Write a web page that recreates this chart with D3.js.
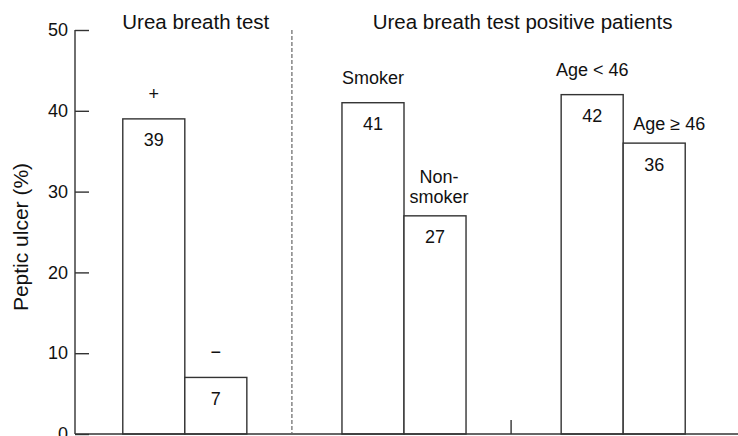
<!DOCTYPE html>
<html><head><meta charset="utf-8">
<script src="https://cdn.jsdelivr.net/npm/d3@7"></script>
<style>
html,body{margin:0;padding:0;background:#fff;}
text{font-family:"Liberation Sans",Arial,Helvetica,sans-serif;fill:#111;}
</style></head>
<body><svg id="c" width="738" height="436"></svg>
<script>
// ---- data ----
const groups = ["Urea breath test", "Smoking", "Age"];
const groupTitles = ["Urea breath test", "Urea breath test positive patients"];
const barGroup = [0, 0, 1, 1, 2, 2];
const barSlot = [0, 1, 0, 1, 0, 1];
const barValues = [39, 7, 41, 27, 42, 36];
const barLabels = [["+"], ["\u2212"], ["Smoker"], ["Non-", "smoker"], ["Age < 46"], ["Age \u2265 46"]];
const yTicks = [0, 10, 20, 30, 40, 50];
const yTitle = "Peptic ulcer (%)";

// ---- layout ----
const W = 738, H = 436;
const svg = d3.select("#c");
const y = d3.scaleLinear().domain([0, 50]).range([434, 30]);
const xg = d3.scaleBand().domain(d3.range(groups.length)).range([75, 733]).paddingInner(0.434).paddingOuter(0.218);
const xb = d3.scaleBand().domain([0, 1]).range([0, xg.bandwidth()]);
const bx = i => xg(barGroup[i]) + xb(barSlot[i]);
const bw = xb.bandwidth();
const stroke = "#333";

// bars
svg.append("g").selectAll("rect").data(barValues).join("rect")
  .attr("x", (d, i) => bx(i)).attr("y", d => y(d))
  .attr("width", bw).attr("height", d => y(0) - y(d))
  .attr("fill", "#fff").attr("stroke", stroke).attr("stroke-width", 1.4);

// value labels inside bars
svg.append("g").selectAll("text").data(barValues).join("text")
  .attr("x", (d, i) => bx(i) + bw / 2).attr("y", d => y(d) + 27.5)
  .attr("text-anchor", "middle").attr("font-size", 18).text(d => d);

// category labels above bars
const labelOffsets = [[0, -19], [0, -19], [0, -19], [4, -13], [0, -19], [15, -13]];
barLabels.forEach((lines, i) => {
  const cx = bx(i) + bw / 2 + labelOffsets[i][0];
  const by = y(barValues[i]) + labelOffsets[i][1];
  lines.forEach((t, k) => {
    svg.append("text").attr("x", cx).attr("y", by - (lines.length - 1 - k) * 20)
      .attr("text-anchor", "middle").attr("font-size", 18).text(t);
  });
});

// axes
const yAxis = d3.axisLeft(y).tickValues(yTicks).tickSize(-14).tickPadding(7);
const gy = svg.append("g").attr("transform", "translate(75,0)").call(yAxis);
gy.select(".domain").remove();
gy.selectAll("line").attr("stroke", stroke).attr("stroke-width", 1.4);
gy.selectAll("text").attr("font-size", 18).attr("fill", "#111")
  .style("font-family", '"Liberation Sans",Arial,sans-serif');
svg.append("line").attr("x1", 75).attr("x2", 75).attr("y1", y(50)).attr("y2", y(0))
  .attr("stroke", stroke).attr("stroke-width", 1.4);
svg.append("line").attr("x1", 75).attr("x2", W).attr("y1", y(0)).attr("y2", y(0))
  .attr("stroke", stroke).attr("stroke-width", 1.4);

// group dividers
const divX = g => xg(g) - xg.step() * xg.paddingInner() / 2 - 2.5;
svg.append("line").attr("x1", divX(1)).attr("x2", divX(1)).attr("y1", y(50)).attr("y2", y(0))
  .attr("stroke", "#666").attr("stroke-width", 1.2).attr("stroke-dasharray", "4,2");
svg.append("line").attr("x1", divX(2)).attr("x2", divX(2)).attr("y1", y(0) - 14).attr("y2", y(0))
  .attr("stroke", stroke).attr("stroke-width", 1.4);

// titles
svg.append("text").attr("x", xg(0) + xg.bandwidth() / 2 + 11).attr("y", 29)
  .attr("text-anchor", "middle").attr("font-size", 20.5).text(groupTitles[0]);
svg.append("text").attr("x", (xg(1) + xg(2) + xg.bandwidth()) / 2 + 9).attr("y", 29)
  .attr("text-anchor", "middle").attr("font-size", 20.5).text(groupTitles[1]);

// y title
svg.append("text").attr("transform", "translate(28,237) rotate(-90)")
  .attr("text-anchor", "middle").attr("font-size", 21).text(yTitle);
</script></body></html>
